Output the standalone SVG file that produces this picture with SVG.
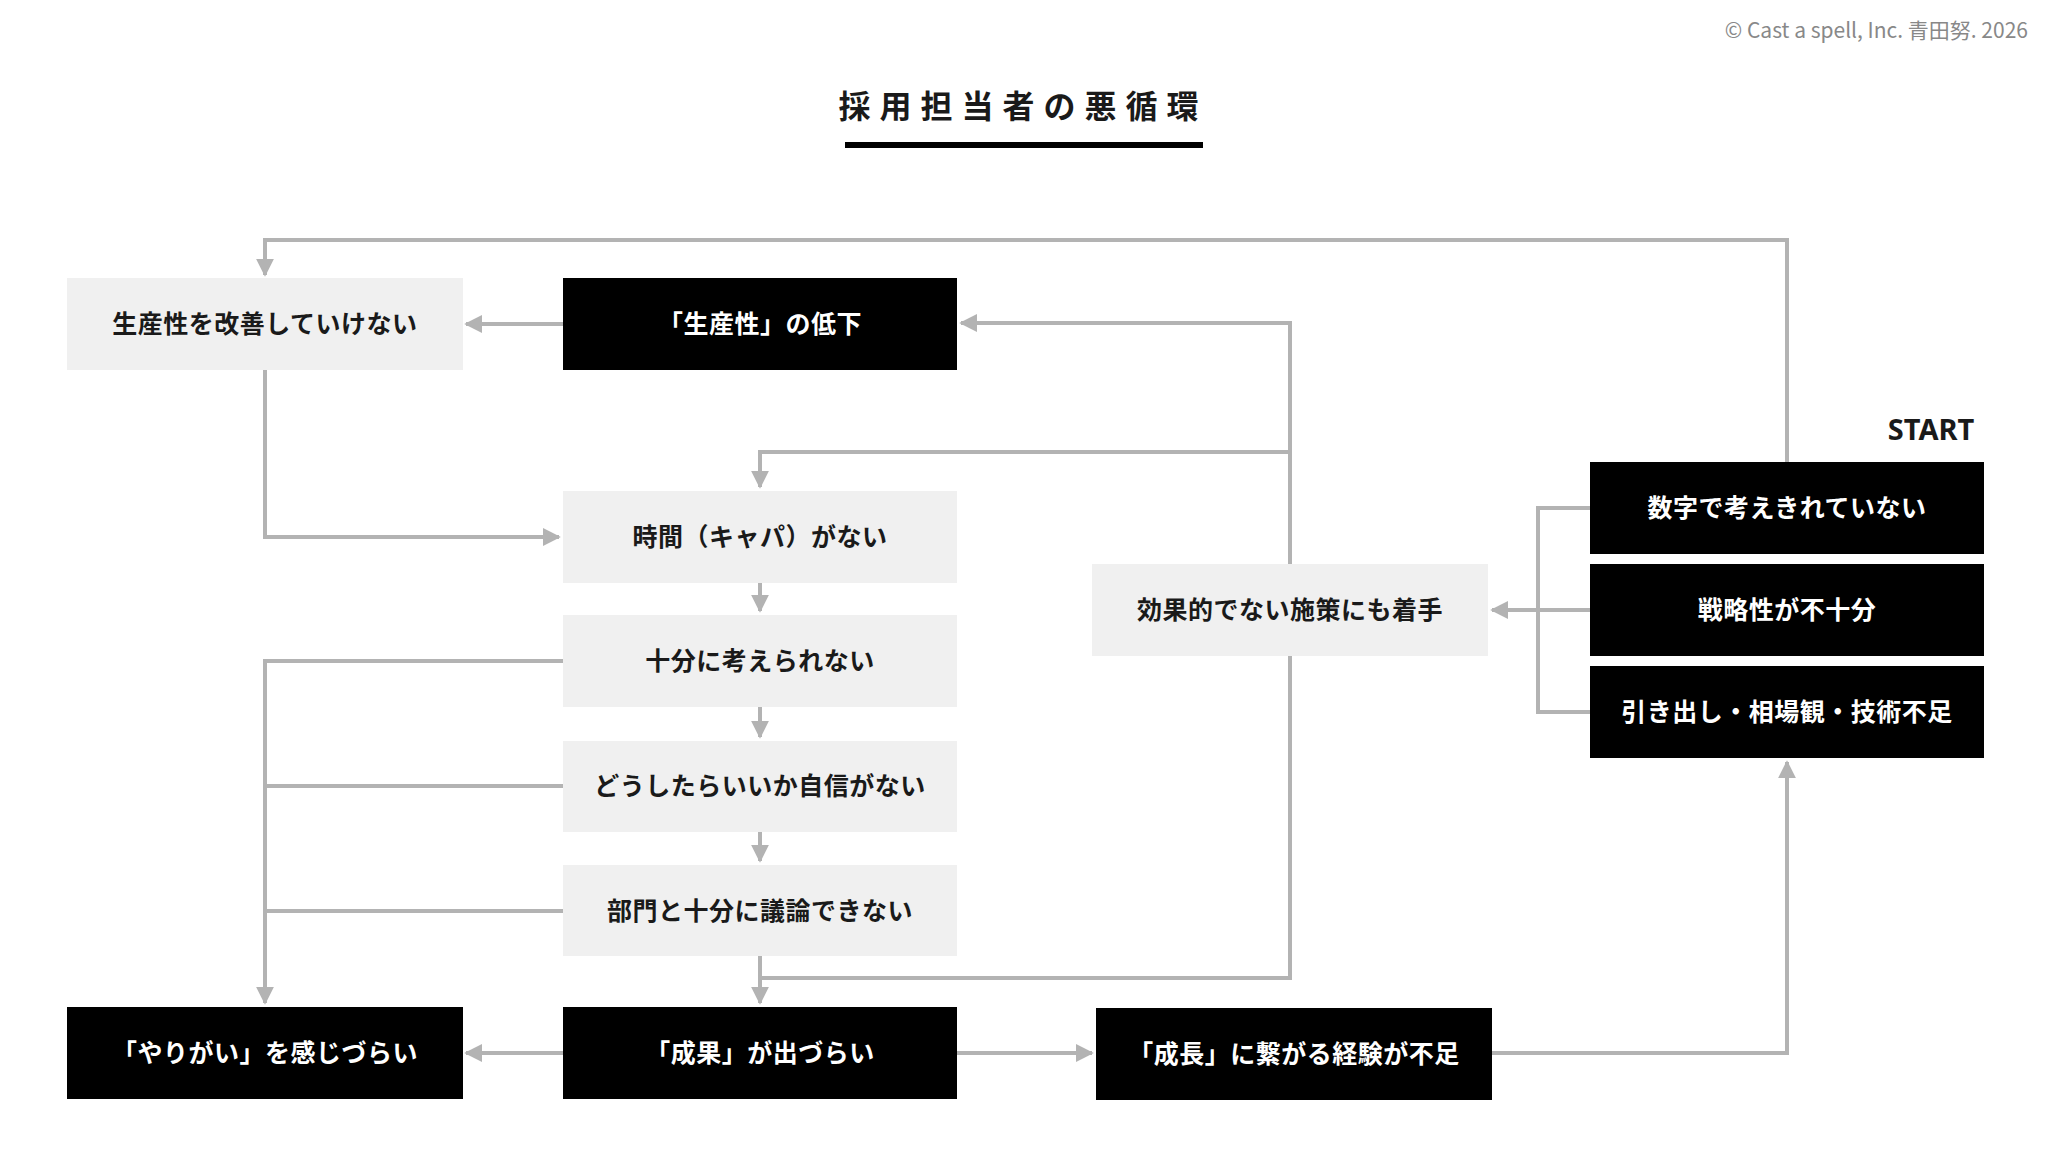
<svg xmlns="http://www.w3.org/2000/svg" width="2048" height="1154" viewBox="0 0 2048 1154">
<style>
.l{fill:#f0f0f0}.d{fill:#000}
text{font-family:"Noto Sans CJK JP","Noto Sans",sans-serif;font-weight:bold;font-size:25px;letter-spacing:0.5px;text-anchor:middle;dominant-baseline:central}
.lt{fill:#1a1a1a}.dt{fill:#fff}
.c{fill:none;stroke:#b3b3b3;stroke-width:4}
</style>
<defs><marker id="a" viewBox="0 0 10 10" refX="9" refY="5" markerWidth="4.5" markerHeight="4.5" orient="auto" markerUnits="strokeWidth"><path d="M0,0L10,5L0,10z" fill="#b3b3b3"/></marker></defs>
<rect width="2048" height="1154" fill="#fff"/>
<text x="2028" y="29" style="font-weight:normal;font-size:21px;letter-spacing:0;text-anchor:end;fill:#888">© Cast a spell, Inc. 青田努. 2026</text>
<g id="title"><text x="1023" y="104" style="font-size:32px;letter-spacing:9px" class="lt">採用担当者の悪循環</text><rect x="845" y="142" width="358" height="6" fill="#000"/></g>
<text x="1931" y="428" style="font-size:29px;letter-spacing:0;font-family:'Noto Sans','Liberation Sans',sans-serif" class="lt">START</text>
<g id="connectors" class="c">
<path d="M1787,462V240H265V275" marker-end="url(#a)"/>
<path d="M563,324H466" marker-end="url(#a)"/>
<path d="M265,370V537H559" marker-end="url(#a)"/>
<path d="M1290,564V323H961" marker-end="url(#a)"/>
<path d="M1290,452H760V487" marker-end="url(#a)"/>
<path d="M760,583V611" marker-end="url(#a)"/>
<path d="M760,707V737" marker-end="url(#a)"/>
<path d="M760,832V861" marker-end="url(#a)"/>
<path d="M760,956V1003" marker-end="url(#a)"/>
<path d="M1290,656V978H760"/>
<path d="M563,661H265V1003" marker-end="url(#a)"/>
<path d="M563,786H265M563,911H265"/>
<path d="M563,1053H466" marker-end="url(#a)"/>
<path d="M957,1053H1092" marker-end="url(#a)"/>
<path d="M1492,1053H1787V762" marker-end="url(#a)"/>
<path d="M1590,508H1538V712H1590"/>
<path d="M1590,610H1492" marker-end="url(#a)"/>
</g>
<g id="n1"><rect class="l" x="67" y="278" width="396" height="92"/><text x="265" y="322" class="lt">生産性を改善していけない</text></g>
<g id="n2"><rect class="d" x="563" y="278" width="394" height="92"/><text x="760" y="322" class="dt">「生産性」の低下</text></g>
<g id="n3"><rect class="l" x="563" y="491" width="394" height="92"/><text x="760" y="535" class="lt">時間（キャパ）がない</text></g>
<g id="n4"><rect class="l" x="563" y="615" width="394" height="92"/><text x="760" y="659" class="lt">十分に考えられない</text></g>
<g id="n5"><rect class="l" x="563" y="741" width="394" height="91"/><text x="760" y="784" class="lt">どうしたらいいか自信がない</text></g>
<g id="n6"><rect class="l" x="563" y="865" width="394" height="91"/><text x="760" y="909" class="lt">部門と十分に議論できない</text></g>
<g id="n7"><rect class="d" x="67" y="1007" width="396" height="92"/><text x="265" y="1051" class="dt">「やりがい」を感じづらい</text></g>
<g id="n8"><rect class="d" x="563" y="1007" width="394" height="92"/><text x="760" y="1051" class="dt">「成果」が出づらい</text></g>
<g id="n9"><rect class="d" x="1096" y="1008" width="396" height="92"/><text x="1294" y="1052" class="dt">「成長」に繋がる経験が不足</text></g>
<g id="n10"><rect class="l" x="1092" y="564" width="396" height="92"/><text x="1290" y="608" class="lt">効果的でない施策にも着手</text></g>
<g id="n11"><rect class="d" x="1590" y="462" width="394" height="92"/><text x="1787" y="506" class="dt">数字で考えきれていない</text></g>
<g id="n12"><rect class="d" x="1590" y="564" width="394" height="92"/><text x="1787" y="608" class="dt">戦略性が不十分</text></g>
<g id="n13"><rect class="d" x="1590" y="666" width="394" height="92"/><text x="1787" y="710" class="dt">引き出し・相場観・技術不足</text></g>
</svg>
